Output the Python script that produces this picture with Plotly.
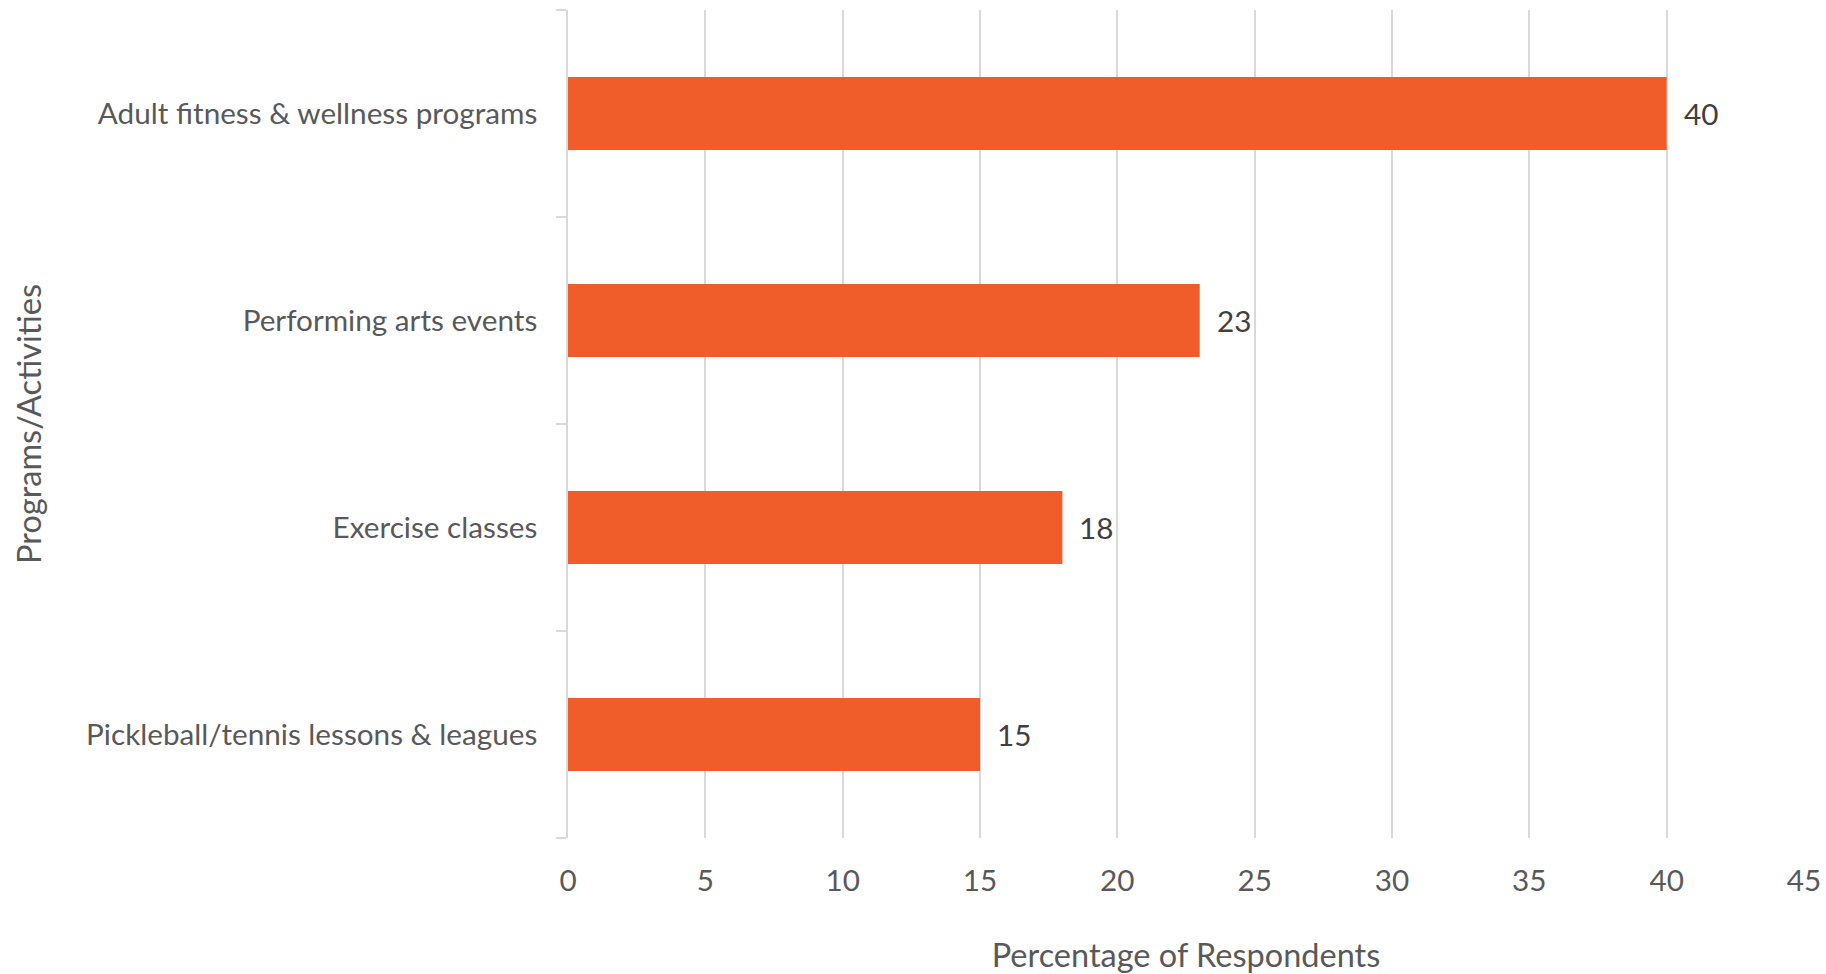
import plotly.graph_objects as go

categories = [
    "Adult fitness & wellness programs",
    "Performing arts events",
    "Exercise classes",
    "Pickleball/tennis lessons & leagues",
]
values = [40, 23, 18, 15]
x_ticks = [0, 5, 10, 15, 20, 25, 30, 35, 40, 45]

FONT = "Lato"
GRAY = "#595959"
GRID = "#d9d9d9"
BAR = "#F05D2A"
LBL = 29.7

fig = go.Figure()
fig.add_trace(go.Bar(
    x=values,
    y=categories,
    orientation="h",
    marker=dict(color=BAR, line=dict(width=0)),
    hoverinfo="skip",
))

for c, v in zip(categories, values):
    fig.add_annotation(
        x=v, y=c, text=str(v), showarrow=False,
        xanchor="left", yanchor="middle", xshift=15,
        font=dict(family=FONT, size=LBL, color="#404040"),
    )

fig.update_layout(
    width=1826, height=974,
    margin=dict(l=568, r=22, t=10, b=136),
    paper_bgcolor="white", plot_bgcolor="white",
    bargap=0.647,
    showlegend=False,
    font=dict(family=FONT, size=LBL, color=GRAY),
)

fig.update_xaxes(
    range=[0, 45],
    tickvals=x_ticks,
    ticktext=[str(t) for t in x_ticks],
    showgrid=True, gridcolor=GRID, gridwidth=1.5,
    zeroline=False,
    showline=False,
    ticks="",
    automargin=False,
    ticklabelstandoff=22,
    tickfont=dict(family=FONT, size=LBL, color=GRAY),
    title=dict(text="Percentage of Respondents",
               font=dict(family=FONT, size=32.5, color=GRAY),
               standoff=50),
)

fig.update_yaxes(
    categoryorder="array",
    categoryarray=categories[::-1],
    showline=True, linecolor=GRID, linewidth=1.5,
    ticks="outside", tickson="boundaries", ticklen=10, tickcolor=GRID, tickwidth=1.5,
    showgrid=False,
    automargin=False,
    ticklabelstandoff=23,
    tickfont=dict(family=FONT, size=LBL, color=GRAY),
    title=dict(text="Programs/Activities",
               font=dict(family=FONT, size=32.5, color=GRAY),
               standoff=35),
)

fig.write_html(
    "out.html",
    config={"displayModeBar": False},
    post_script="document.body.style.margin='0';document.body.style.overflow='hidden';",
)
